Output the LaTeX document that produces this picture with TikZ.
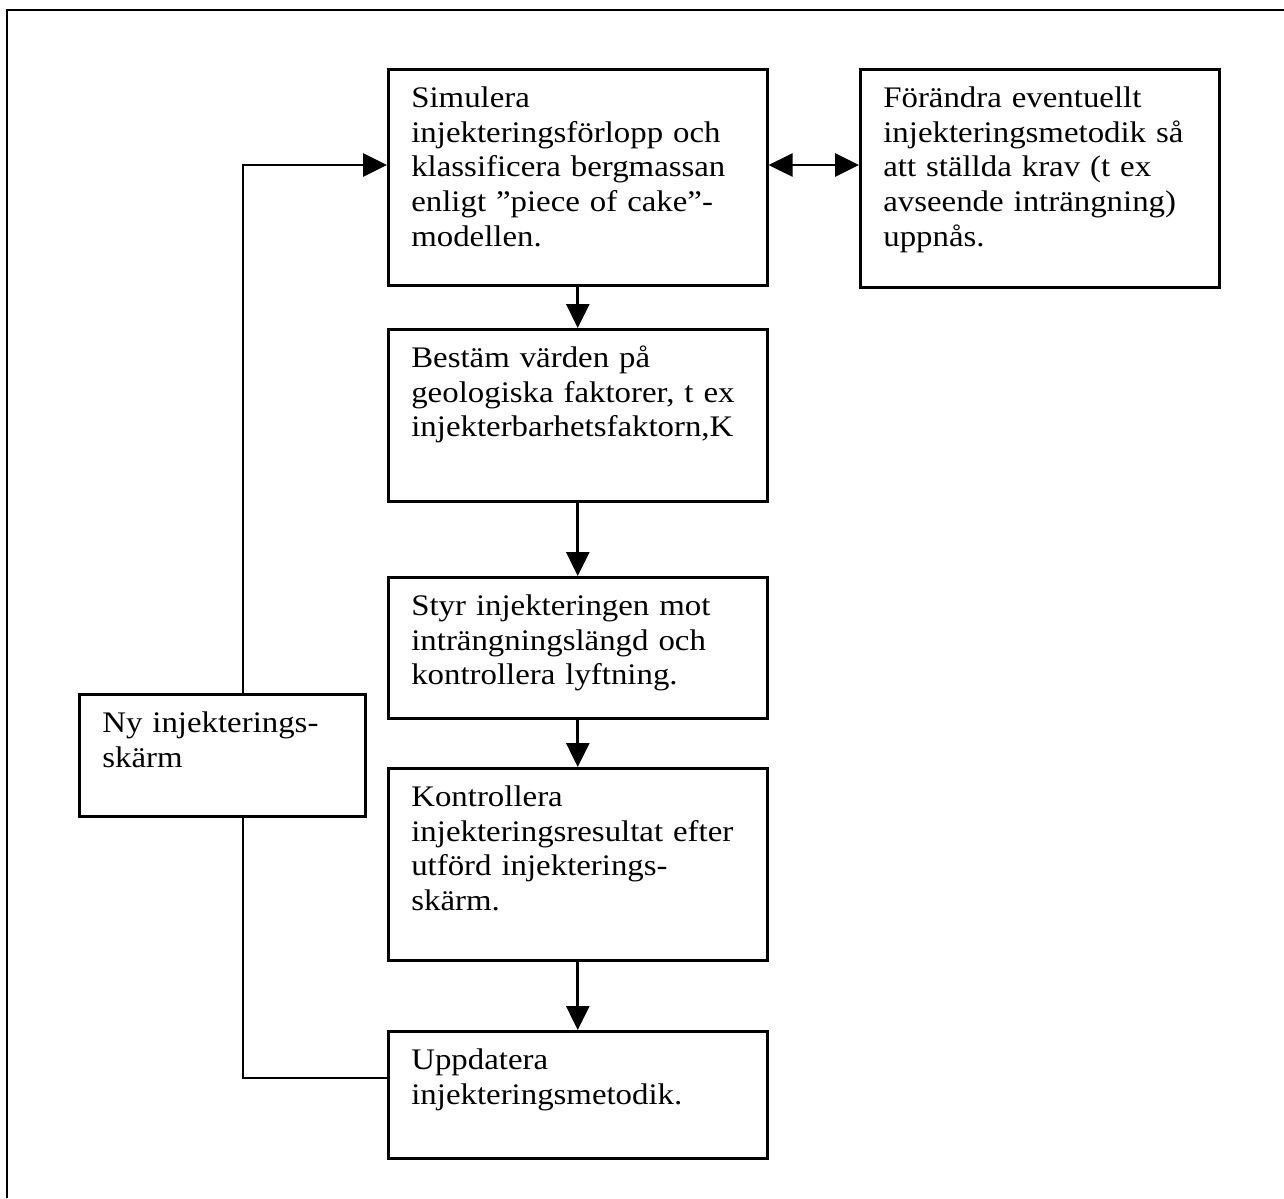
\documentclass[tikz,border=0pt]{standalone}
\usepackage{fontspec}
\setmainfont{Liberation Serif}[FakeStretch=1.1]
\usetikzlibrary{arrows.meta}

\begin{document}
\begin{tikzpicture}[x=0.02cm,y=-0.02cm,
  box/.style={draw,line width=1.5pt,anchor=north west,inner xsep=0.46cm,inner ysep=0pt,
    align=left,text height=0.76cm,font=\fontsize{17}{19.8}\selectfont},
  arr/.style={-{Triangle[length=0.48cm,width=0.46cm]},line width=1.6pt},
  dbl/.style={{Triangle[length=0.48cm,width=0.46cm]}-{Triangle[length=0.48cm,width=0.46cm]},line width=1.6pt}]
  \useasboundingbox (0,0) rectangle (1284,1198);
  \draw[line width=1.1pt] (7,1198) -- (7,10) -- (1284,10);
  \node[box,text width=6.66cm,text depth=3.56cm] (sim) at (387,68) {Simulera\\injekteringsförlopp och\\klassificera bergmassan\\enligt ”piece of cake”-\\modellen.};
  \node[box,text width=6.26cm,text depth=3.60cm] (chg) at (859,68) {Förändra eventuellt\\injekteringsmetodik så\\att ställda krav (t ex\\avseende inträngning)\\uppnås.};
  \node[box,text width=6.66cm,text depth=2.68cm] (best) at (387,328) {Bestäm värden på\\geologiska faktorer, t ex\\injekterbarhetsfaktorn,K};
  \node[box,text width=6.66cm,text depth=2.06cm] (styr) at (387,576) {Styr injekteringen mot\\inträngningslängd och\\kontrollera lyftning.};
  \node[box,text width=6.66cm,text depth=3.08cm] (kont) at (387,767) {Kontrollera\\injekteringsresultat efter\\utförd injekterings-\\skärm.};
  \node[box,text width=6.66cm,text depth=1.78cm] (upp) at (387,1030) {Uppdatera\\injekteringsmetodik.};
  \node[box,text width=4.80cm,text depth=1.68cm] (ny) at (78,693) {Ny injekterings-\\skärm};
  \coordinate (ltop) at (243,165);
  \coordinate (lbot) at (243,1078);
  \draw[arr] (sim) -- (best);
  \draw[arr] (best) -- (styr);
  \draw[arr] (styr) -- (kont);
  \draw[arr] (kont) -- (upp);
  \draw[dbl] (ltop -| sim.east) -- (ltop -| chg.west);
  \draw[arr] (ltop |- ny.north) -- (ltop) -- (ltop -| sim.west);
  \draw[line width=1.6pt] (lbot |- ny.south) -- (lbot) -- (lbot -| upp.west);
\end{tikzpicture}
\end{document}
